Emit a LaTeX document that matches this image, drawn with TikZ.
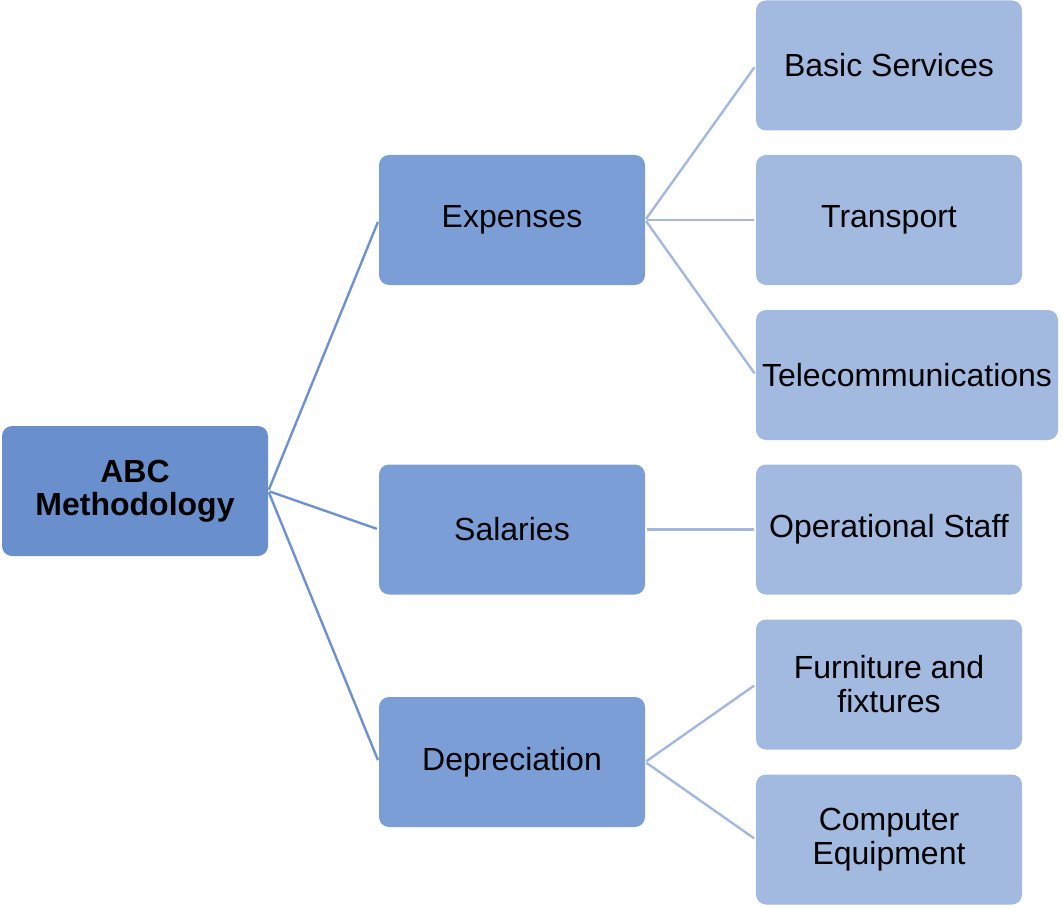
\documentclass[tikz,border=0pt]{standalone}
\usepackage{fontspec}
\setmainfont{Liberation Sans}
\definecolor{rootblue}{HTML}{6990CD}
\definecolor{midblue}{HTML}{7C9ED7}
\definecolor{leafblue}{HTML}{A2B9E0}
\definecolor{linkdark}{HTML}{6E92D0}
\definecolor{linklight}{HTML}{A3B8E0}
\tikzset{
	box/.style = {rectangle, rounded corners = 7.5pt, draw = none, align = center,
		minimum width = 199.5pt, minimum height = 97.5pt, inner xsep = 3pt,
		font = \fontsize{24}{25.5}\selectfont},
	rootbox/.style = {box, fill = rootblue, font = \fontsize{24}{25}\selectfont\bfseries},
	midbox/.style = {box, fill = midblue},
	leafbox/.style = {box, fill = leafblue},
	darklink/.style = {draw = linkdark, line width = 1.8pt, shorten <= 1pt, shorten >= 1.5pt},
	lightlink/.style = {draw = linklight, line width = 1.8pt, shorten <= 1pt, shorten >= 1.5pt}
}
\begin{document}
\begin{tikzpicture}[x = 0.75pt, y = -0.75pt]
	\useasboundingbox (0,0) rectangle (1063,909);
	\node[rootbox] (abc) at (135,491) {ABC\\Methodology};
	\node[midbox] (exp) at (512,220) {Expenses};
	\node[midbox] (sal) at (512,529.5) {Salaries};
	\node[midbox] (dep) at (512,762) {Depreciation};
	\node[leafbox] (basic) at (889,65.5) {Basic Services};
	\node[leafbox] (trans) at (889,220) {Transport};
	\node[leafbox, minimum width = 226.5pt] (tele) at (907,375) {Telecommunications};
	\node[leafbox] (staff) at (889,529.5) {Operational Staff};
	\node[leafbox] (furn) at (889,684.5) {Furniture and\\fixtures};
	\node[leafbox] (comp) at (889,839.5) {Computer\\Equipment};
	\draw[darklink] (abc.east) -- (exp.west);
	\draw[darklink] (abc.east) -- (sal.west);
	\draw[darklink] (abc.east) -- (dep.west);
	\draw[lightlink] (exp.east) -- (basic.west);
	\draw[lightlink] (exp.east) -- (trans.west);
	\draw[lightlink] (exp.east) -- (tele.west);
	\draw[lightlink] (sal.east) -- (staff.west);
	\draw[lightlink] (dep.east) -- (furn.west);
	\draw[lightlink] (dep.east) -- (comp.west);
\end{tikzpicture}
\end{document}
